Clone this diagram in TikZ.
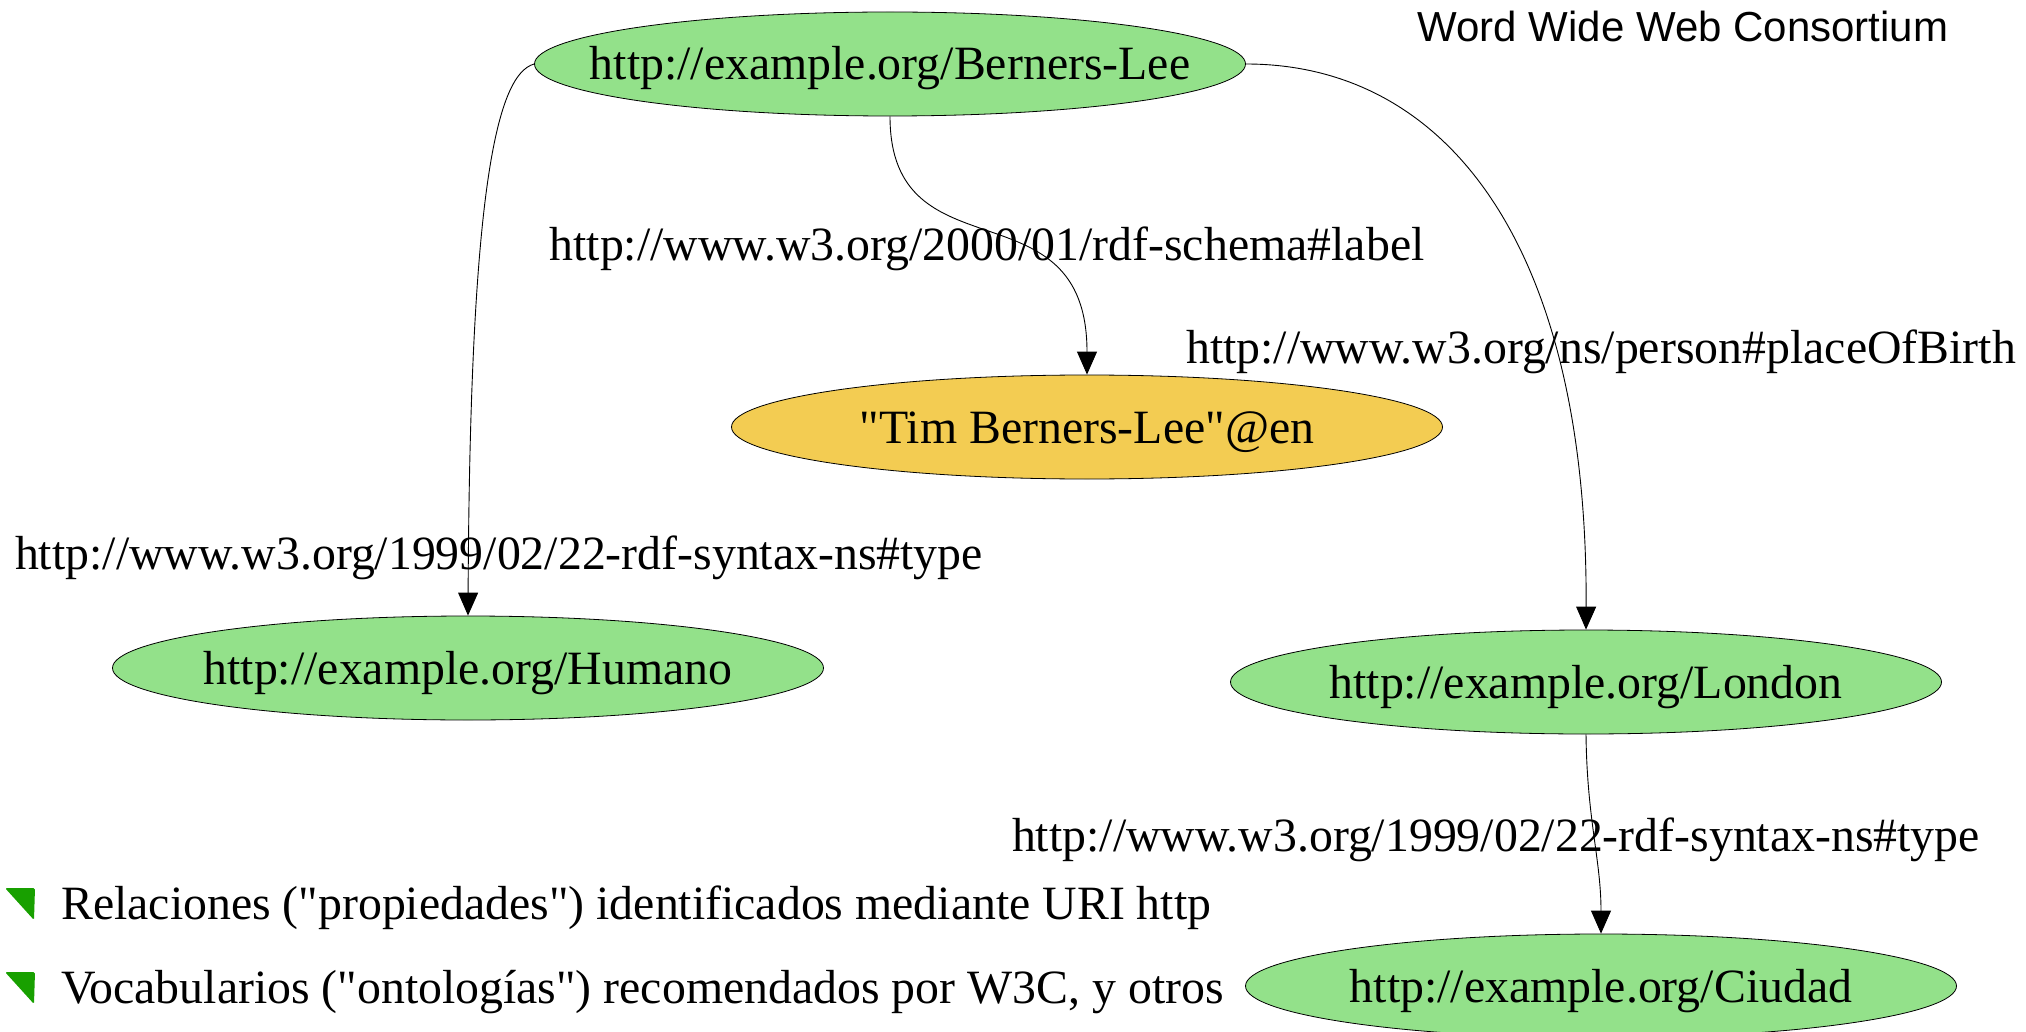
\documentclass[tikz,border=0pt]{standalone}
\usepackage{fontspec}
\setmainfont{Liberation Serif}[Ligatures=TeXOff]
\newfontfamily\wsans{Liberation Sans}
\usetikzlibrary{shapes.geometric,arrows.meta}
\definecolor{nodegreen}{RGB}{147,225,138}
\definecolor{nodeyellow}{RGB}{243,204,82}
\definecolor{bulletgreen}{RGB}{24,160,0}
\newcommand\ellipsetext[1]{\makebox[0pt]{\raisebox{-16pt}[0pt][0pt]{#1}}}
\tikzset{
  res/.style={ellipse, draw=black, line width=0.8pt, fill=nodegreen, minimum width=711pt, minimum height=104pt, inner sep=0pt},
  lit/.style={res, fill=nodeyellow},
  lbl/.style={inner sep=0pt},
  edge/.style={line width=0.9pt, -{Triangle[length=23pt,width=20pt]}},
  bullet/.style={fill=bulletgreen, rounded corners=1.5pt}
}
\begin{document}
\begin{tikzpicture}[x=1pt,y=-1pt,font=\fontsize{47.8}{57}\selectfont]
\useasboundingbox (0,0) rectangle (2026,1032);
\node[res] (bl) at (890,64) {\ellipsetext{http://example.org/Berners-Lee}};
\node[lit] (tim) at (1087,427) {\ellipsetext{"Tim Berners-Lee"@en}};
\node[res] (hum) at (468,668) {\ellipsetext{http://example.org/Humano}};
\node[res] (lon) at (1586,682) {\ellipsetext{http://example.org/London}};
\node[res] (ciu) at (1601,986) {\ellipsetext{http://example.org/Ciudad}};

\draw[edge] (bl.west) .. controls (495,75) and (470,200) .. (hum.north);
\draw[edge] (bl.south) .. controls (890,280) and (1087,180) .. (tim.north);
\draw[edge] (bl.east) .. controls (1450,64) and (1588,250) .. (lon.north);
\draw[edge] (lon.south) .. controls (1587,820) and (1601,860) .. (ciu.north);

\node[lbl] (l1) at (987,249) {http://www.w3.org/2000/01/rdf-schema\#label};
\node[lbl] (l2) at (1601,352) {http://www.w3.org/ns/person\#placeOfBirth};
\node[lbl] (l3) at (499,558) {http://www.w3.org/1999/02/22-rdf-syntax-ns\#type};
\node[lbl] (l4) at (1496,840) {http://www.w3.org/1999/02/22-rdf-syntax-ns\#type};

\node[lbl, font=\wsans\fontsize{42}{50}\selectfont] (w3c) at (1683,26) {Word Wide Web Consortium};

\fill[bullet] (5,888) -- (35,888) -- (34,920) -- cycle;
\fill[bullet] (5,972) -- (35,972) -- (34,1004) -- cycle;
\node[lbl, anchor=west] (b1) at (61,908) {Relaciones ("propiedades") identificados mediante URI http};
\node[lbl, anchor=west] (b2) at (61,992) {Vocabularios ("ontologías") recomendados por W3C, y otros};
\end{tikzpicture}
\end{document}
